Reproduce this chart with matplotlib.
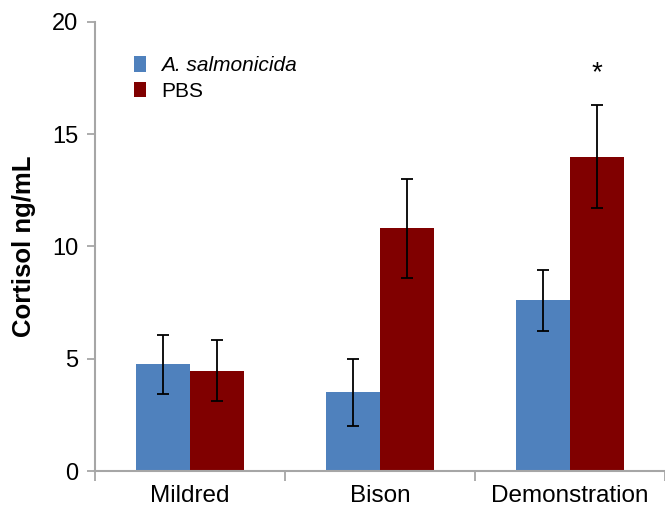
import matplotlib.pyplot as plt
import numpy as np

plt.rcParams["font.family"] = ["Liberation Sans", "DejaVu Sans"]

# values
groups = ["Mildred", "Bison", "Demonstration"]
salmonicida = [4.75, 3.5, 7.6]
salmonicida_err = [1.32, 1.5, 1.35]
pbs = [4.47, 10.8, 14.0]
pbs_err = [1.36, 2.2, 2.3]
series_names = ["A. salmonicida", "PBS"]

BLUE = "#4F81BD"
RED = "#800000"
AXIS_GREY = "#A6A6A6"

fig = plt.figure(figsize=(6.65, 5.07), dpi=100)
ax = fig.add_axes([0.143, 0.071, 0.857, 0.886])

x = np.arange(len(groups))
w = 0.285
err_kw = dict(ecolor="black", elinewidth=1.3, capsize=4, capthick=1.3)
ax.bar(x - w / 2, salmonicida, w, yerr=salmonicida_err, color=BLUE,
       label=series_names[0], error_kw=err_kw)
ax.bar(x + w / 2, pbs, w, yerr=pbs_err, color=RED,
       label=series_names[1], error_kw=err_kw)

# significance marker above Demonstration / PBS
ax.text(x[2] + w / 2, pbs[2] + pbs_err[2] + 1.4, "*", ha="center", va="center",
        fontsize=20)

ax.set_xlim(-0.5, len(groups) - 0.5)
ax.set_ylim(0, 20)
ax.set_yticks([0, 5, 10, 15, 20])
ax.set_xticks(x)
ax.set_xticklabels(groups, fontsize=17.5)
ax.set_xticks(np.arange(len(groups) + 1) - 0.5, minor=True)
ax.tick_params(axis="x", which="major", length=0, pad=10)
ax.tick_params(axis="x", which="minor", length=7, color=AXIS_GREY, width=1.3)
ax.tick_params(axis="y", labelsize=17, length=6, color=AXIS_GREY, width=1.3, pad=6)

for side in ("top", "right"):
    ax.spines[side].set_visible(False)
for side in ("left", "bottom"):
    ax.spines[side].set_color(AXIS_GREY)
    ax.spines[side].set_linewidth(1.5)

ax.set_ylabel("Cortisol ng/mL", fontsize=18.5, fontweight="bold", labelpad=12)

leg = ax.legend(loc="upper left", bbox_to_anchor=(0.035, 0.965), frameon=False,
                fontsize=15, handlelength=0.6, handleheight=0.75,
                handletextpad=0.7, labelspacing=0.3)
leg.get_texts()[0].set_fontstyle("italic")

fig.savefig("out.png", dpi=100)
